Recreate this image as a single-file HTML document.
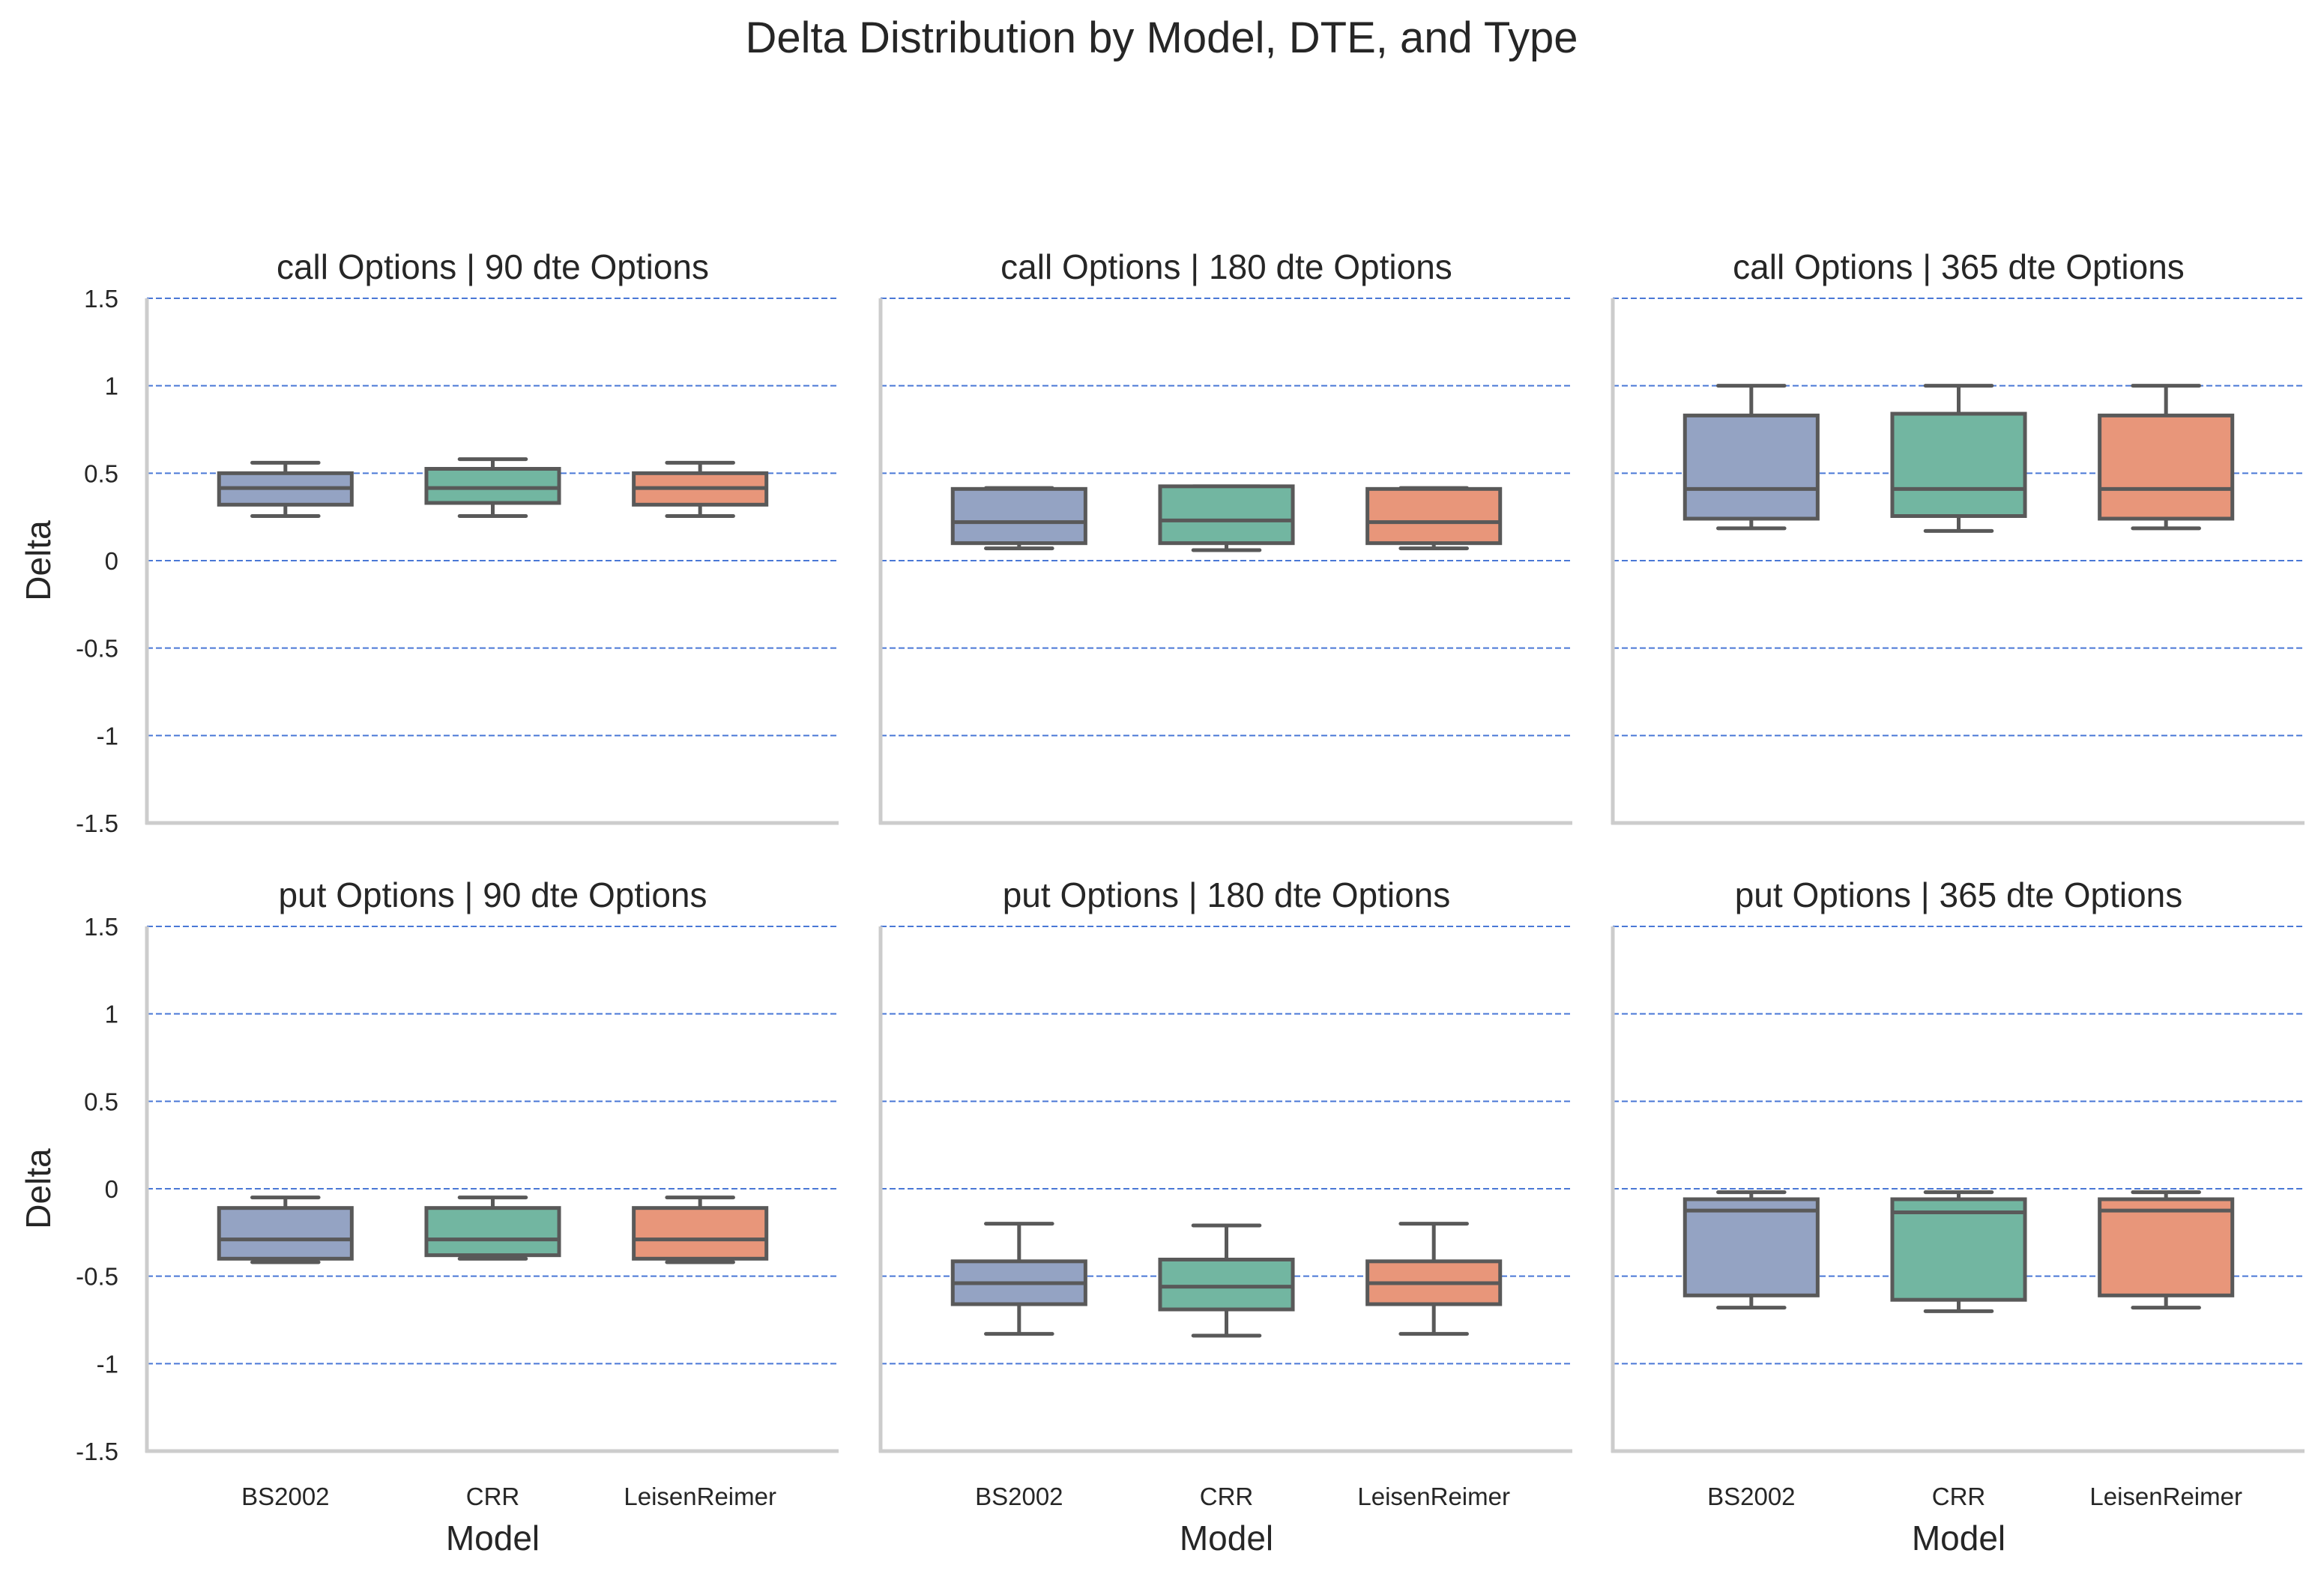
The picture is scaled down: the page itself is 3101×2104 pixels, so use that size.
<!DOCTYPE html>
<html><head><meta charset="utf-8"><style>
html,body{margin:0;padding:0;background:#fff;}
svg{display:block;font-family:"Liberation Sans",Arial,sans-serif;}
</style></head><body>
<svg id="chart" width="3101" height="2104" viewBox="0 0 3101 2104" xmlns="http://www.w3.org/2000/svg">
<text x="1550" y="70" font-size="58" text-anchor="middle" fill="#262626">Delta Distribution by Model, DTE, and Type</text>
</svg>
<script>
const models = ["BS2002", "CRR", "LeisenReimer"];
const optTypes = ["call", "put"];
const dtes = [90, 180, 365];
const yTicks = [1.5, 1, 0.5, 0, -0.5, -1, -1.5];
const yTickLabels = ["1.5", "1", "0.5", "0", "-0.5", "-1", "-1.5"];
// [whiskerLow, Q1, median, Q3, whiskerHigh] per panel per model
const call90 = [[0.255,0.32,0.415,0.50,0.56],[0.255,0.33,0.415,0.525,0.58],[0.255,0.32,0.415,0.50,0.56]];
const call180 = [[0.07,0.10,0.22,0.41,0.415],[0.06,0.10,0.23,0.425,0.425],[0.07,0.10,0.22,0.41,0.415]];
const call365 = [[0.185,0.24,0.41,0.83,1.0],[0.17,0.255,0.41,0.84,1.0],[0.185,0.24,0.41,0.83,1.0]];
const put90 = [[-0.42,-0.40,-0.29,-0.11,-0.05],[-0.40,-0.38,-0.29,-0.11,-0.05],[-0.42,-0.40,-0.29,-0.11,-0.05]];
const put180 = [[-0.83,-0.66,-0.54,-0.415,-0.2],[-0.84,-0.69,-0.56,-0.405,-0.21],[-0.83,-0.66,-0.54,-0.415,-0.2]];
const put365 = [[-0.68,-0.61,-0.125,-0.06,-0.02],[-0.70,-0.635,-0.135,-0.06,-0.02],[-0.68,-0.61,-0.125,-0.06,-0.02]];
const panelData = [[call90, call180, call365],[put90, put180, put365]];
const colors = ["#94a3c3","#72b6a1","#e8967a"];

const NS = "http://www.w3.org/2000/svg";
const svg = document.getElementById("chart");
const colX = [196, 1175, 2152];
const axW = 923;
const rowTop = [398, 1236];
const axH = 700;
const yMin = -1.5, yMax = 1.5;
const xMin = -0.668, xMax = 2.668;
function mk(tag, attrs, parent){const e=document.createElementNS(NS,tag);for(const k in attrs)e.setAttribute(k,attrs[k]);(parent||svg).appendChild(e);return e;}

for (let r=0;r<2;r++){
  for (let c=0;c<3;c++){
    const x0=colX[c], y0=rowTop[r];
    const ys=v=>y0+(yMax-v)/(yMax-yMin)*axH;
    const xs=v=>x0+(v-xMin)/(xMax-xMin)*axW;
    const g=mk("g",{});
    
    
    const t=mk("text",{x:x0+axW/2,y:y0-26,"font-size":46,"text-anchor":"middle",fill:"#262626"},g);
    t.textContent=optTypes[r]+" Options | "+dtes[c]+" dte Options";
    
    
    yTicks.forEach((v,i)=>{
      const gl=mk("line",{x1:x0,x2:x0+axW,y1:ys(v),y2:ys(v),stroke:"#4a78d6","stroke-width":2,"stroke-dasharray":"8,4"},g);
      
      
      if(c===0){
        const tl=mk("text",{x:x0-38,y:ys(v)+12,"font-size":33,"text-anchor":"end",fill:"#262626"},g);
        tl.textContent=yTickLabels[i];
        
        
      }
    });
    const sp1=mk("line",{x1:x0,x2:x0,y1:y0,y2:y0+axH+2,stroke:"#cccccc","stroke-width":5},g);
    
    
    const sp2=mk("line",{x1:x0-2,x2:x0+axW,y1:y0+axH,y2:y0+axH,stroke:"#cccccc","stroke-width":5},g);
    
    
    const data=panelData[r][c];
    models.forEach((m,i)=>{
      const d=data[i], cx=xs(i), hw=0.32*(axW/(xMax-xMin)), cw=hw/2;
      const bg=mk("g",{stroke:"#595959","stroke-width":5,fill:"none"},g);
      
      
      mk("line",{x1:cx,x2:cx,y1:ys(d[0]),y2:ys(d[1])},bg);
      mk("line",{x1:cx,x2:cx,y1:ys(d[3]),y2:ys(d[4])},bg);
      mk("line",{x1:cx-cw,x2:cx+cw,y1:ys(d[0]),y2:ys(d[0]),"stroke-linecap":"round"},bg);
      mk("line",{x1:cx-cw,x2:cx+cw,y1:ys(d[4]),y2:ys(d[4]),"stroke-linecap":"round"},bg);
      mk("rect",{x:cx-hw,y:ys(d[3]),width:2*hw,height:Math.max(0,ys(d[1])-ys(d[3])),fill:colors[i]},bg);
      mk("line",{x1:cx-hw,x2:cx+hw,y1:ys(d[2]),y2:ys(d[2])},bg);
      if(r===1){
        const xl=mk("text",{x:cx,y:y0+axH+72,"font-size":33,"text-anchor":"middle",fill:"#262626"},g);
        xl.textContent=m;
        
        
      }
    });
    if(r===1){
      const xt=mk("text",{x:x0+axW/2,y:y0+axH+132,"font-size":46,"text-anchor":"middle",fill:"#262626"},g);
      xt.textContent="Model";
      
      
    }
    if(c===0){
      const yt=mk("text",{x:0,y:0,"font-size":46,"text-anchor":"middle",fill:"#262626",transform:"translate(67,"+(y0+axH/2)+") rotate(-90)"},g);
      yt.textContent="Delta";
      
      
    }
  }
}
</script>
</body></html>
